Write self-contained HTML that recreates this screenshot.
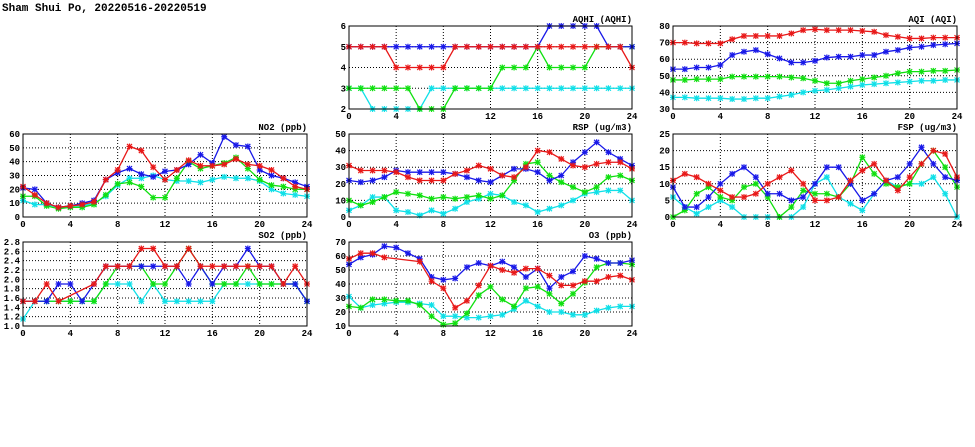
<!DOCTYPE html>
<html><head><meta charset="utf-8">
<style>
html,body{margin:0;padding:0;background:#fff;width:975px;height:447px;overflow:hidden}
svg{display:block}
text{font-family:"Liberation Mono","DejaVu Sans Mono",monospace;font-weight:bold;fill:#000}
</style></head>
<body>
<svg id="chart" width="975" height="447" viewBox="0 0 975 447">
<text x="2" y="11" font-size="11" font-weight="normal">Sham Shui Po, 20220516-20220519</text>
</svg>
<script>
const hours = [0,1,2,3,4,5,6,7,8,9,10,11,12,13,14,15,16,17,18,19,20,21,22,23,24];
const xTicks = [0,4,8,12,16,20,24];
const seriesNames = ["cyan","green","blue","red"];

const aqhiCyan = [3,3,2,2,2,2,2,3,3,3,3,3,3,3,3,3,3,3,3,3,3,3,3,3,3];
const aqhiGreen = [3,3,3,3,3,3,2,2,2,3,3,3,3,4,4,4,5,4,4,4,4,5,5,5,5];
const aqhiBlue = [5,5,5,5,5,5,5,5,5,5,5,5,5,5,5,5,5,6,6,6,6,6,5,5,5];
const aqhiRed = [5,5,5,5,4,4,4,4,4,5,5,5,5,5,5,5,5,5,5,5,5,5,5,5,4];
const aqhiTicks = [2,3,4,5,6];

const aqiCyan = [37,37,36.5,36.5,36.5,36,36,36.5,36.5,37.5,38.5,40,41,41.5,42.5,43.5,44.5,45,45.5,46,46.5,47,47,47.5,47.5];
const aqiGreen = [47.5,47.5,48,48,48,49.5,49.5,49.5,49.5,49.5,49,48.5,47,45.5,45.5,47,48,49,50,51.5,52.5,52.5,53,53,53.5];
const aqiBlue = [54,54,55,55,56.5,62.5,64.5,65.5,63,60.5,58,58,59,61,61.5,61.5,62.5,62.5,64.5,65.5,67,67.5,68.5,69,69.5];
const aqiRed = [70,70,69.5,69.5,69.5,72,74,74,74,74,75.5,77.5,78,77.5,77.5,77.5,77,76.5,74.5,73.5,72.5,72.5,73,73,73];
const aqiTicks = [30,40,50,60,70,80];

const no2Cyan = [12,9,9,7,8,8,10,15,23,28,28,30,27,26,26,25,27,29,28,28,26,20,17,16,15];
const no2Green = [15,15,8,6,7,7,9,16,24,25,22,14,14,28,40,35,37,39,43,35,27,23,22,20,20];
const no2Blue = [21,20,10,7,8,10,12,27,32,35,31,29,33,34,38,45,39,58,52,51,34,30,28,25,22];
const no2Red = [22,16,10,7,8,9,11,27,34,51,48,36,27,34,41,37,37,38,42,38,37,34,28,22,20];
const no2Ticks = [0,10,20,30,40,50,60];

const rspCyan = [4,7,12,12,4,3,1,4,2,5,9,11,14,13,9,7,3,5,7,10,14,15,16,16,10];
const rspGreen = [10,7,9,12,15,14,13,11,12,11,12,13,11,13,22,32,33,25,21,18,15,18,24,25,22];
const rspBlue = [22,21,22,24,28,27,27,27,27,26,24,22,21,25,29,29,27,22,25,33,39,45,39,35,31];
const rspRed = [31,28,28,28,27,24,22,22,22,26,28,31,29,25,24,30,40,39,35,31,30,32,33,33,29];
const rspTicks = [0,10,20,30,40,50];

const fspCyan = [6,3,1,3,5,3,0,0,0,0,0,3,10,12,6,4,2,7,11,9,10,10,12,7,0];
const fspGreen = [0,2,7,9,6,5,9,10,6,0,3,8,7,7,6,10,18,13,10,9,10,16,20,15,9];
const fspBlue = [9,3,3,6,10,13,15,12,7,7,5,6,10,15,15,10,5,7,11,12,16,21,16,12,11];
const fspRed = [11,13,12,10,8,6,6,7,10,12,14,10,5,5,6,11,14,16,11,8,12,16,20,19,12];
const fspTicks = [0,5,10,15,20,25];

const so2Cyan = [1.15,1.53,1.53,1.53,1.53,1.53,1.53,1.9,1.9,1.9,1.53,1.9,1.53,1.53,1.53,1.53,1.53,1.9,1.9,1.9,1.9,1.9,1.9,1.9,1.53];
const so2Green = [1.53,1.53,1.53,1.53,1.53,1.53,1.53,1.9,2.28,2.28,2.28,1.9,1.9,2.28,2.66,2.28,1.9,1.9,1.9,2.28,1.9,1.9,1.9,1.9,1.53];
const so2Blue = [1.53,1.53,1.53,1.9,1.9,1.53,1.9,2.28,2.28,2.28,2.28,2.28,2.28,2.28,1.9,2.28,1.9,2.28,2.28,2.66,2.28,2.28,1.9,1.9,1.53];
const so2Red = [1.53,1.53,1.9,1.53,null,null,1.9,2.28,2.28,2.28,2.66,2.66,2.28,2.28,2.66,2.28,2.28,2.28,2.28,2.28,2.28,2.28,1.9,2.28,1.9];
const so2Ticks = [1.0,1.2,1.4,1.6,1.8,2.0,2.2,2.4,2.6,2.8];

const o3Cyan = [31,23,25,26,27,27,26,25,17,17,16,16,17,18,22,28,24,20,20,18,18,21,23,24,24];
const o3Green = [24,23,29,29,28,28,25,17,11,12,19,32,38,29,24,37,38,33,26,33,41,52,55,55,54];
const o3Blue = [54,59,61,67,66,62,58,45,43,44,52,55,53,56,52,45,51,37,45,49,60,58,55,55,57];
const o3Red = [58,62,62,59,null,null,56,42,37,23,28,39,53,50,48,51,51,46,39,39,42,42,45,46,43];
const o3Ticks = [10,20,30,40,50,60,70];

const colors = {cyan:"#10e0e8", green:"#10e010", blue:"#1818e8", red:"#e81818"};
const NS = "http://www.w3.org/2000/svg";
const svg = document.getElementById("chart");

function mk(tag, attrs, parent){
  const e = document.createElementNS(NS, tag);
  for (const k in attrs) e.setAttribute(k, attrs[k]);
  parent.appendChild(e);
  return e;
}

function panel(name, title, box, ticks, fmt, series){
  const g = mk("g", {}, svg);
  
  
  const [x0,y0,x1,y1] = box;
  const yMin = ticks[0], yMax = ticks[ticks.length-1];
  const sx = v => x0 + (v - 0) / 24 * (x1 - x0);
  const sy = v => y1 - (v - yMin) / (yMax - yMin) * (y1 - y0);
  // grid
  ticks.forEach((t,i) => {
    if (i===0 || i===ticks.length-1) return;
    const l = mk("line", {x1:x0, x2:x1, y1:sy(t), y2:sy(t), stroke:"#000", "stroke-width":1, "stroke-dasharray":"1,2"}, g);
    
    
  });
  xTicks.forEach((t,i) => {
    if (i===0 || i===xTicks.length-1) return;
    const l = mk("line", {x1:sx(t), x2:sx(t), y1:y0, y2:y1, stroke:"#000", "stroke-width":1, "stroke-dasharray":"1,2"}, g);
    
    
  });
  // y tick labels
  ticks.forEach(t => {
    const tx = mk("text", {x:x0-3, y:sy(t)+3, "font-size":9, "text-anchor":"end"}, g);
    tx.textContent = fmt(t);
    
    
  });
  xTicks.forEach(t => {
    const tx = mk("text", {x:sx(t), y:y1+10, "font-size":9, "text-anchor":"middle"}, g);
    tx.textContent = String(t);
    
    
  });
  const tt = mk("text", {x:x1, y:y0-4, "font-size":9, "text-anchor":"end"}, g);
  tt.textContent = title;
  
  
  // series
  series.forEach((vals, si) => {
    const c = colors[seriesNames[si]];
    const pts = [];
    vals.forEach((v,i) => { if (v !== null) pts.push([sx(hours[i]), sy(v)]); });
    const pl = mk("polyline", {points: pts.map(p => p.join(",")).join(" "), fill:"none", stroke:c, "stroke-width":1.3}, g);
    
    
    pts.forEach(p => {
      const m = mk("path", {d:`M${p[0]-2.5},${p[1]-2.5}L${p[0]+2.5},${p[1]+2.5}M${p[0]-2.5},${p[1]+2.5}L${p[0]+2.5},${p[1]-2.5}M${p[0]-3},${p[1]}L${p[0]+3},${p[1]}M${p[0]},${p[1]-3}L${p[0]},${p[1]+3}`, stroke:c, "stroke-width":1.2, fill:"none"}, g);
      
      
    });
  });
  const fr = mk("rect", {x:x0, y:y0, width:x1-x0, height:y1-y0, fill:"none", stroke:"#000", "stroke-width":1}, g);
  
  
}

const i0 = v => String(v);
const f1 = v => v.toFixed(1);
panel("aqhi", "AQHI (AQHI)", [349,26,632,109], aqhiTicks, i0, [aqhiCyan,aqhiGreen,aqhiBlue,aqhiRed]);
panel("aqi", "AQI (AQI)", [673,26,957,109], aqiTicks, i0, [aqiCyan,aqiGreen,aqiBlue,aqiRed]);
panel("no2", "NO2 (ppb)", [23,134,307,217], no2Ticks, i0, [no2Cyan,no2Green,no2Blue,no2Red]);
panel("rsp", "RSP (ug/m3)", [349,134,632,217], rspTicks, i0, [rspCyan,rspGreen,rspBlue,rspRed]);
panel("fsp", "FSP (ug/m3)", [673,134,957,217], fspTicks, i0, [fspCyan,fspGreen,fspBlue,fspRed]);
panel("so2", "SO2 (ppb)", [23,242,307,326], so2Ticks, f1, [so2Cyan,so2Green,so2Blue,so2Red]);
panel("o3", "O3 (ppb)", [349,242,632,326], o3Ticks, i0, [o3Cyan,o3Green,o3Blue,o3Red]);
</script>
</body></html>
